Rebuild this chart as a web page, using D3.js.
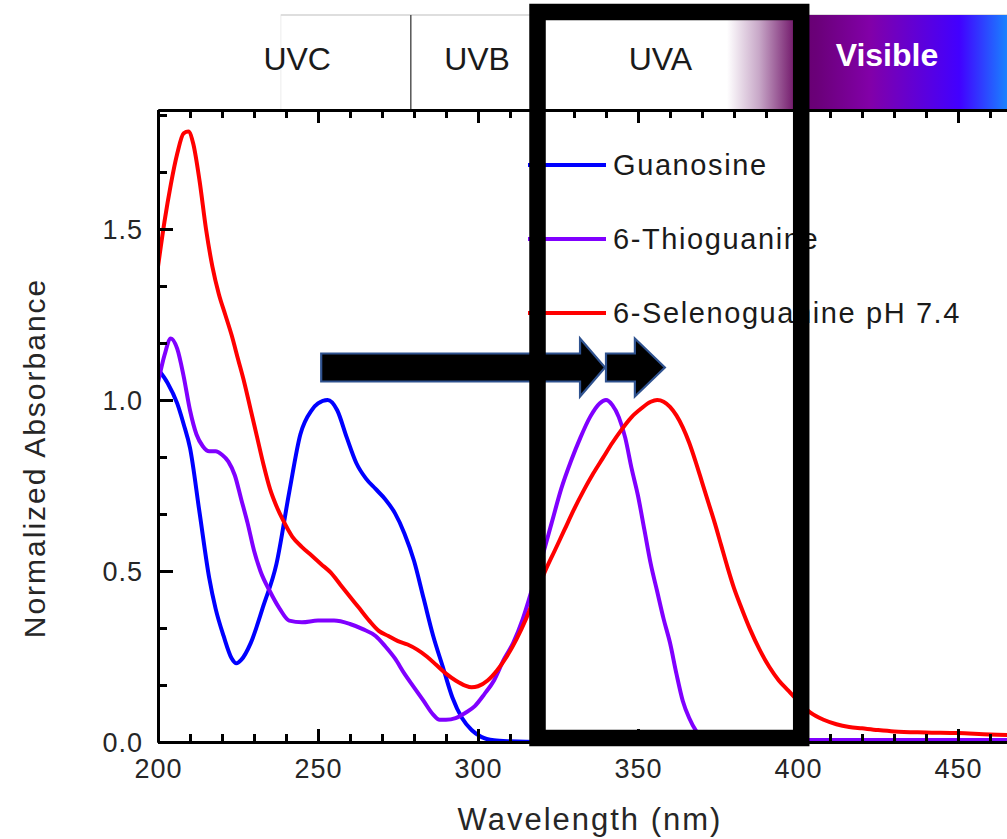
<!DOCTYPE html>
<html>
<head>
<meta charset="utf-8">
<script src="https://cdn.jsdelivr.net/npm/d3@7"></script>
<style>
  body { margin: 0; background: #fff; }
  svg text { font-family: "Liberation Sans", Arial, sans-serif; }
</style>
</head>
<body>
<div id="chart"></div>
<script>
// wavelength (nm), normalized absorbance
var guanosine = [[200,1.09],[203,1.05],[206,0.99],[208,0.93],[210,0.86],[213,0.67],[216,0.48],[218,0.39],
  [220.5,0.31],[223,0.245],[224.5,0.23],[226,0.24],[229,0.29],[233,0.40],[237,0.52],[241,0.73],[244.5,0.90],
  [248,0.97],[250,0.99],[253,1.00],[256,0.97],[259,0.89],[262,0.815],[265,0.77],[268,0.74],[271,0.71],
  [274,0.67],[277,0.61],[280,0.53],[283,0.42],[286,0.31],[289,0.22],[292,0.13],[295,0.07],[298,0.035],
  [301,0.015],[305,0.005],[310,0.002],[320,0.0],[400,0.0],[470,0.0]];

var thioguanine = [[200,1.05],[202,1.13],[204,1.18],[206,1.15],[208,1.07],[210,0.97],[212,0.90],[214,0.865],
  [216,0.85],[218,0.85],[220,0.84],[222,0.82],[224,0.78],[226,0.71],[228,0.64],[230,0.56],[232,0.50],
  [235,0.44],[238,0.39],[241,0.355],[245,0.35],[250,0.355],[255,0.355],[260,0.345],[264,0.33],[268,0.31],
  [271,0.28],[274,0.245],[277,0.20],[280,0.16],[283,0.12],[286,0.08],[288,0.065],[290,0.065],[293,0.07],
  [296,0.085],[299,0.105],[302,0.14],[305,0.18],[308,0.24],[311,0.29],[314,0.36],[317,0.45],[320,0.54],
  [323,0.64],[326,0.74],[329,0.82],[332,0.89],[335,0.95],[338,0.99],[340,1.00],[342,0.985],[344,0.95],
  [346,0.89],[348,0.80],[350,0.72],[352,0.62],[354,0.52],[356,0.44],[358,0.36],[360,0.29],[362,0.20],
  [364,0.12],[366,0.07],[368,0.035],[370,0.015],[374,0.008],[380,0.006],[420,0.006],[470,0.006]];

var selenoguanine = [[200,1.39],[202,1.52],[204,1.63],[206,1.72],[208,1.78],[209.5,1.785],[211,1.75],[213,1.64],
  [215,1.50],[217,1.39],[219,1.31],[221,1.25],[223,1.19],[225,1.12],[227,1.05],[229,0.97],[231,0.89],
  [233,0.81],[235,0.74],[237,0.69],[239,0.65],[242,0.60],[245,0.57],[248,0.545],[251,0.52],[254,0.495],
  [257,0.46],[260,0.425],[263,0.39],[266,0.355],[269,0.325],[272,0.31],[275,0.295],[278,0.285],[281,0.27],
  [284,0.25],[287,0.225],[290,0.20],[293,0.18],[296,0.165],[298,0.16],[300,0.163],[303,0.18],[306,0.21],
  [309,0.25],[312,0.30],[315,0.36],[318,0.43],[321,0.50],[324,0.56],[327,0.62],[330,0.68],[333,0.735],
  [336,0.785],[339,0.83],[342,0.875],[345,0.915],[348,0.95],[351,0.975],[354,0.995],[356,1.0],[358,0.995],
  [360,0.98],[362,0.955],[364,0.92],[366,0.875],[368,0.82],[370,0.76],[372,0.70],[374,0.64],[376,0.575],
  [378,0.51],[380,0.45],[382,0.40],[385,0.33],[388,0.27],[391,0.22],[394,0.18],[397,0.15],[400,0.12],
  [404,0.085],[408,0.065],[412,0.052],[416,0.044],[420,0.04],[425,0.035],[430,0.031],[440,0.028],
  [450,0.026],[460,0.022],[470,0.02]];

var seriesNames = ["Guanosine", "6-Thioguanine", "6-Selenoguanine pH 7.4"];
var seriesColors = ["#0000ff", "#8000ff", "#ff0000"];

var xMajorTicks = [200, 250, 300, 350, 400, 450];
var yMajorTicks = [0, 0.5, 1.0, 1.5];

// spectral regions in the header strip
var bandNames = ["UVC", "UVB", "UVA", "Visible"];
var bandLabelAt = [243.5, 299.7, 357, 427.8];
var bandDividers = [279];
var headerStart = 238.4;
var uvaFadeFrom = 377.8, visibleFrom = 400;

// arrows: peak shifts 253 -> 340 -> 358
var arrowFrom = [251, 340];
var arrowTo = [339.7, 358.4];
var arrowLevel = 1.095;

var boxRange = [318.6, 401];

var width = 1007, height = 839;

var svg = d3.select("#chart").append("svg")
    .attr("width", width)
    .attr("height", height);

var defs = svg.append("defs");

var x = d3.scaleLinear().domain([200, 470]).range([158, 1022]);
var y = d3.scaleLinear().domain([0, 1.848]).range([742, 110]);

// header strip
var header = svg.append("g");
header.append("rect")
  .attr("x", x(headerStart)).attr("y", 15)
  .attr("width", width - x(headerStart)).attr("height", 95)
  .style("fill", "#fff").style("stroke", "#ececec").style("stroke-width", 1);
header.append("line")
  .attr("x1", x(headerStart)).attr("x2", width)
  .attr("y1", 15).attr("y2", 15)
  .style("stroke", "#c8c8c8").style("stroke-width", 1.2);

var fade = defs.append("linearGradient").attr("id", "fade");
fade.append("stop").attr("offset", "0%").attr("stop-color", "#ffffff");
fade.append("stop").attr("offset", "45%").attr("stop-color", "#c8a8c8");
fade.append("stop").attr("offset", "100%").attr("stop-color", "#6a0a62");
header.append("rect")
  .attr("x", x(uvaFadeFrom)).attr("y", 15)
  .attr("width", x(visibleFrom) - x(uvaFadeFrom)).attr("height", 95)
  .style("fill", "url(#fade)");

var vis = defs.append("linearGradient").attr("id", "vis");
[["0%", "#680070"], ["8%", "#6a0078"], ["32%", "#8200a8"], ["72%", "#4200ff"], ["93%", "#1a80ff"], ["100%", "#1a90ff"]]
  .forEach(function(s) { vis.append("stop").attr("offset", s[0]).attr("stop-color", s[1]); });
header.append("rect")
  .attr("x", x(visibleFrom)).attr("y", 15)
  .attr("width", x(470) - x(visibleFrom)).attr("height", 95)
  .style("fill", "url(#vis)");

bandDividers.forEach(function(d) {
  header.append("line")
    .attr("x1", x(d)).attr("x2", x(d))
    .attr("y1", 15).attr("y2", 110)
    .style("stroke", "#555").style("stroke-width", 1.5);
});

header.selectAll("text.band")
  .data(bandNames)
  .enter().append("text")
  .attr("class", "band")
  .attr("x", function(d, i) { return x(bandLabelAt[i]); })
  .attr("y", function(d, i) { return i == 3 ? 66 : 70; })
  .attr("text-anchor", "middle")
  .style("font-size", "32px")
  .style("font-weight", function(d, i) { return i == 3 ? "bold" : "normal"; })
  .style("fill", function(d, i) { return i == 3 ? "#fff" : "#1a1a1a"; })
  .text(function(d) { return d; });

// curves
defs.append("clipPath").attr("id", "plotclip")
  .append("rect").attr("x", 158).attr("y", 110).attr("width", 870).attr("height", 632);

var line = d3.line()
  .x(function(d) { return x(d[0]); })
  .y(function(d) { return y(d[1]); })
  .curve(d3.curveMonotoneX);

var allSeries = [guanosine, thioguanine, selenoguanine];
svg.append("g").attr("clip-path", "url(#plotclip)")
  .selectAll("path")
  .data(allSeries)
  .enter().append("path")
  .attr("d", line)
  .style("fill", "none")
  .style("stroke", function(d, i) { return seriesColors[i]; })
  .style("stroke-width", 4)
  .style("stroke-linejoin", "round");

// axes
function styleAxis(g) {
  g.select(".domain").style("stroke", "#000").style("stroke-width", 3);
  g.selectAll(".tick line").style("stroke", "#000").style("stroke-width", 3);
}

var xMinor = d3.range(210, 471, 10).filter(function(v) { return v % 50 != 0; });
var yMinor = d3.range(0, 1.84, 0.5 / 3).filter(function(v) { return Math.abs(v * 2 - Math.round(v * 2)) > 0.01; });

var bottomAxis = svg.append("g").attr("transform", "translate(0,742)");
bottomAxis.append("g").call(d3.axisBottom(x).tickValues(xMinor).tickSize(-8).tickSizeOuter(0).tickFormat("")).call(styleAxis);
bottomAxis.append("g").call(d3.axisBottom(x).tickValues(xMajorTicks).tickSize(-13).tickSizeOuter(0).tickFormat(d3.format("d")))
  .call(styleAxis)
  .call(function(g) {
    g.selectAll("text").attr("y", 36).attr("dy", 0)
      .style("font-size", "27px").style("letter-spacing", "1px").style("fill", "#262626");
  });

var topAxis = svg.append("g").attr("transform", "translate(0,110)");
topAxis.append("g").call(d3.axisTop(x).tickValues(xMinor).tickSize(-8).tickSizeOuter(0).tickFormat("")).call(styleAxis);
topAxis.append("g").call(d3.axisTop(x).tickValues(xMajorTicks).tickSize(-13).tickSizeOuter(0).tickFormat("")).call(styleAxis);

var leftAxis = svg.append("g").attr("transform", "translate(158,0)");
leftAxis.append("g").call(d3.axisLeft(y).tickValues(yMinor).tickSize(-9).tickSizeOuter(0).tickFormat("")).call(styleAxis);
leftAxis.append("g").call(d3.axisLeft(y).tickValues(yMajorTicks).tickSize(-15).tickSizeOuter(0).tickFormat(d3.format(".1f")))
  .call(styleAxis)
  .call(function(g) {
    g.selectAll("text").attr("x", -15).attr("dy", "0.36em")
      .style("font-size", "27px").style("letter-spacing", "1px").style("fill", "#262626");
  });

svg.append("text")
  .attr("x", 590).attr("y", 830)
  .attr("text-anchor", "middle")
  .style("font-size", "31px").style("letter-spacing", "2px").style("fill", "#262626")
  .text("Wavelength (nm)");

svg.append("text")
  .attr("transform", "translate(45,458) rotate(-90)")
  .attr("text-anchor", "middle")
  .style("font-size", "30px").style("letter-spacing", "2px").style("fill", "#262626")
  .text("Normalized Absorbance");

// legend
var legend = svg.append("g");
seriesNames.forEach(function(name, i) {
  var ly = 165 + i * 74;
  legend.append("line")
    .attr("x1", 528).attr("x2", 606).attr("y1", ly).attr("y2", ly)
    .style("stroke", seriesColors[i]).style("stroke-width", 4);
  legend.append("text")
    .attr("x", 613).attr("y", ly).attr("dy", "0.36em")
    .style("font-size", "29px").style("letter-spacing", "1.6px").style("fill", "#1a1a1a")
    .text(name);
});

// arrows
var shaft = 14, head = 29;
arrowFrom.forEach(function(a, i) {
  var x0 = x(a), x2 = x(arrowTo[i]), x1 = x2 - (i == 0 ? 25 : 30), yc = y(arrowLevel);
  var pts = [[x0, yc - shaft], [x1, yc - shaft], [x1, yc - head], [x2, yc], [x1, yc + head], [x1, yc + shaft], [x0, yc + shaft]];
  svg.append("path")
    .attr("d", "M" + pts.join("L") + "Z")
    .style("fill", "#000").style("stroke", "#2f528f").style("stroke-width", 2.2);
});

// highlight box over UVA
svg.append("rect")
  .attr("x", x(boxRange[0])).attr("y", 12)
  .attr("width", x(boxRange[1]) - x(boxRange[0])).attr("height", 726)
  .style("fill", "none").style("stroke", "#000").style("stroke-width", 16.5);
</script>
</body>
</html>
